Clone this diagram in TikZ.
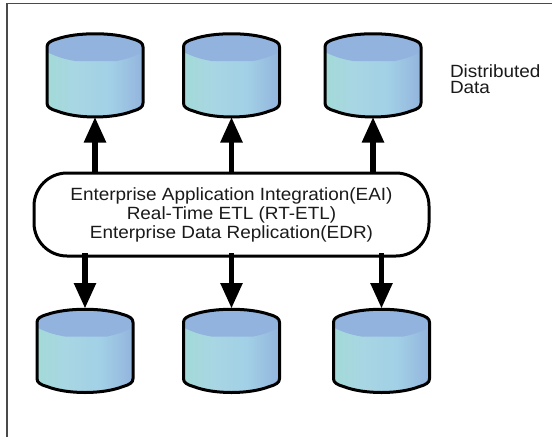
\documentclass[tikz,border=0pt]{standalone}
\usepackage{fontspec}
\setmainfont[FakeStretch=1.07]{Liberation Sans}
\usetikzlibrary{arrows.meta}
\definecolor{cylA}{HTML}{A3DAD8}
\definecolor{cylB}{HTML}{A8D6E3}
\definecolor{cylC}{HTML}{A2D0E6}
\definecolor{cylD}{HTML}{93B4DD}
\definecolor{cylTop}{HTML}{92B3DE}
\definecolor{frameGrey}{HTML}{4A4A4A}
\definecolor{textInk}{HTML}{1A1A1A}
\pgfdeclarehorizontalshading{cylshade}{100bp}{
  color(0bp)=(cylA); color(25bp)=(cylA); color(40bp)=(cylB); color(58bp)=(cylC); color(75bp)=(cylD); color(100bp)=(cylD)}
\tikzset{
  dbslot/.style={minimum width=96pt,minimum height=84pt,inner sep=0pt,outer sep=0pt},
  hubbox/.style={draw=black,line width=3pt,rounded corners=33pt,fill=white,minimum width=395pt,minimum height=83pt,inner sep=0pt,outer sep=0pt,align=center,text=textInk,font=\fontsize{17.7pt}{19pt}\selectfont},
  bigarrow/.style={line width=5.5pt,-{Triangle[length=25.5pt,width=21pt]}},
  caption/.style={inner sep=0pt,outer sep=0pt,align=left,anchor=north west,text=textInk,font=\fontsize{17.7pt}{16.5pt}\selectfont}
}
\newcommand{\dbdraw}[1]{%
  \begin{scope}[shift={(#1.north west)}]
    \def\dboutline{(0,14) .. controls (0,10) and (3,8) .. (10,6) .. controls (30,-1) and (66,-1) .. (86,6) .. controls (93,8) and (96,10) .. (96,14) -- (96,70) .. controls (96,74) and (93,76) .. (86,78) .. controls (66,86) and (30,86) .. (10,78) .. controls (3,76) and (0,74) .. (0,70) -- cycle}
    \path[shading=cylshade] \dboutline;
    \fill[cylTop] (0,14) .. controls (0,10) and (3,8) .. (10,6) .. controls (30,-1) and (66,-1) .. (86,6) .. controls (93,8) and (96,10) .. (96,14) -- (96,19) .. controls (88,23) and (80,26) .. (70,28) -- (28,28) .. controls (16,26) and (8,23) .. (0,19) -- cycle;
    \draw[line width=3pt,line join=round] \dboutline;
  \end{scope}}
\begin{document}
\begin{tikzpicture}[x=1pt,y=-1pt]
\useasboundingbox (0,0) rectangle (552,437);
\fill[white] (0,0) rectangle (552,437);
\draw[frameGrey,line width=1.2pt] (7,437) -- (7,3.5) -- (552,3.5);
\node[dbslot] (t1) at (95,75) {};
\node[dbslot] (t2) at (231.5,75) {};
\node[dbslot] (t3) at (373,75) {};
\node[dbslot] (b1) at (85,350.5) {};
\node[dbslot] (b2) at (231.5,350.5) {};
\node[dbslot] (b3) at (381.5,350.5) {};
\dbdraw{t1}\dbdraw{t2}\dbdraw{t3}\dbdraw{b1}\dbdraw{b2}\dbdraw{b3}
\node[hubbox] (hub) at (231.5,214.5) {Enterprise Application Integration(EAI)\\Real-Time ETL (RT-ETL)\\Enterprise Data Replication(EDR)};
\foreach \n in {t1,t2,t3}{\draw[bigarrow] (\n |- hub.north) -- (\n.south);}
\foreach \n in {b1,b2,b3}{\draw[bigarrow,shorten <=-3pt] (\n |- hub.south) -- (\n.north);}
\node[caption] (lbl) at (450,64.5) {Distributed\\Data};
\end{tikzpicture}
\end{document}
